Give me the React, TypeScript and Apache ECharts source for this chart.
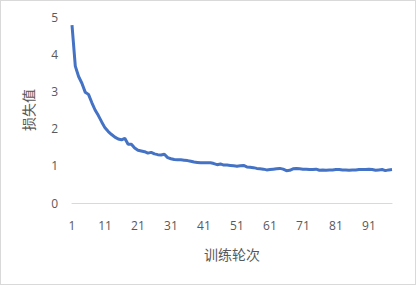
import React, { useEffect, useRef } from "react";
import * as echarts from "echarts";

const epochs: string[] = Array.from({ length: 98 }, (_, i) => String(i + 1));
const lossValues: number[] = [
  4.78, 3.68, 3.4, 3.22, 2.98, 2.92, 2.7, 2.5, 2.35, 2.18,
  2.02, 1.92, 1.84, 1.77, 1.72, 1.7, 1.74, 1.58, 1.58, 1.48,
  1.42, 1.4, 1.38, 1.34, 1.36, 1.32, 1.3, 1.29, 1.31, 1.22,
  1.19, 1.17, 1.16, 1.16, 1.15, 1.14, 1.12, 1.1, 1.09, 1.08,
  1.08, 1.08, 1.08, 1.06, 1.03, 1.05, 1.02, 1.02, 1.01, 1.0,
  0.99, 1.0, 1.01, 0.97, 0.96, 0.95, 0.93, 0.92, 0.91, 0.89,
  0.9, 0.91, 0.92, 0.93, 0.91, 0.87, 0.88, 0.92, 0.93, 0.92,
  0.91, 0.91, 0.9, 0.9, 0.91, 0.88, 0.89, 0.88, 0.89, 0.89,
  0.9, 0.9, 0.89, 0.89, 0.88, 0.89, 0.89, 0.9, 0.9, 0.9,
  0.91, 0.9, 0.88, 0.89, 0.9, 0.87, 0.89, 0.9,
];
const xTitle = "训练轮次";
const yTitle = "损失值";

export default function App() {
  const ref = useRef<HTMLDivElement>(null);
  useEffect(() => {
    document.body.style.margin = "0";
    const chart = echarts.init(ref.current!, null, { renderer: "svg" });
    chart.setOption({
      animation: false,
      grid: { left: 71, right: 23, top: 16, bottom: 81, containLabel: false },
      xAxis: {
        type: "category",
        data: epochs,
        boundaryGap: false,
        axisLine: { lineStyle: { color: "#d9d9d9", width: 1 } },
        axisTick: { show: false },
        axisLabel: {
          interval: 9,
          color: "#595959",
          fontSize: 12,
          margin: 16,
          fontFamily: "Open Sans, sans-serif",
        },
        name: xTitle,
        nameLocation: "middle",
        nameGap: 44,
        nameTextStyle: {
          color: "#595959",
          fontSize: 14,
          fontFamily: "Noto Sans CJK SC, sans-serif",
        },
      },
      yAxis: {
        type: "value",
        min: 0,
        max: 5,
        interval: 1,
        axisLine: { show: false },
        axisTick: { show: false },
        splitLine: { show: false },
        axisLabel: {
          color: "#595959",
          fontSize: 12,
          margin: 14,
          fontFamily: "Open Sans, sans-serif",
        },
        name: yTitle,
        nameLocation: "middle",
        nameRotate: 90,
        nameGap: 37,
        nameTextStyle: {
          color: "#595959",
          fontSize: 14,
          fontFamily: "Noto Sans CJK SC, sans-serif",
        },
      },
      series: [
        {
          type: "line",
          data: lossValues,
          showSymbol: false,
          symbol: "none",
          lineStyle: { color: "#4472C4", width: 3 },
        },
      ],
    });
    return () => chart.dispose();
  }, []);
  return (
    <div
      ref={ref}
      style={{
        position: "absolute",
        left: 0,
        top: 0,
        width: 416,
        height: 285,
        boxSizing: "border-box",
        border: "1px solid #d9d9d9",
        background: "#fff",
      }}
    />
  );
}
